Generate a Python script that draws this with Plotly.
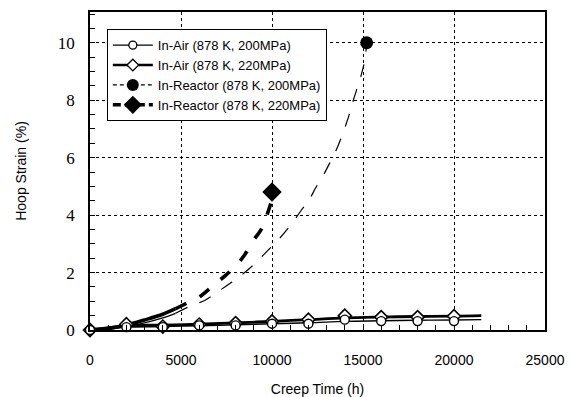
import plotly.graph_objects as go

# ---------------- data ----------------
air_marker_time = [0, 2000, 4000, 6000, 8000, 10000, 12000, 14000, 16000, 18000, 20000]
air200_marker = [0, 0.10, 0.10, 0.16, 0.16, 0.22, 0.22, 0.36, 0.31, 0.31, 0.31]
air220_marker = [0, 0.20, 0.12, 0.19, 0.24, 0.30, 0.36, 0.50, 0.45, 0.45, 0.48]

air_line_time = [0, 1000, 2000, 4000, 6000, 8000, 10000, 12000, 14000, 16000, 18000, 20000, 21500]
air200_line = [0, 0.05, 0.10, 0.12, 0.15, 0.18, 0.22, 0.25, 0.30, 0.32, 0.34, 0.35, 0.36]
air220_line = [0, 0.08, 0.15, 0.17, 0.20, 0.25, 0.30, 0.36, 0.42, 0.45, 0.47, 0.48, 0.50]

r200_time = [0, 1000, 2000, 3000, 4000, 4700, 5500, 6300, 6900, 7800, 8500, 9200, 9800,
             10400, 10900, 11600, 12100, 12400, 12900, 13200, 13600, 14200, 14400, 14700,
             14900, 15100, 15200]
r200_val = [0, 0.03, 0.12, 0.25, 0.42, 0.58, 0.83, 1.03, 1.28, 1.67, 2.00, 2.40, 2.79,
            3.18, 3.56, 4.16, 4.60, 4.95, 5.48, 5.85, 6.37, 7.41, 7.86, 8.46,
            8.87, 9.40, 10.0]
r200_end_time = [15200]
r200_end_val = [10.0]

r220_time = [0, 1000, 2000, 3000, 4000, 4700, 5300, 6000, 6900, 7450, 8100, 8500, 8900,
             9450, 9750, 10000]
r220_val = [0, 0.05, 0.17, 0.35, 0.55, 0.74, 0.93, 1.15, 1.62, 1.90, 2.30, 2.62, 3.05,
            3.55, 4.05, 4.55]
r220_end_time = [10000]
r220_end_val = [4.80]

solid_until = 4700  # reactor curves drawn solid up to here, dashed afterwards

x_ticks = [0, 5000, 10000, 15000, 20000, 25000]
y_ticks = [0, 2, 4, 6, 8, 10]

labels = ["In-Air (878 K, 200MPa)", "In-Air (878 K, 220MPa)",
          "In-Reactor (878 K, 200MPa)", "In-Reactor (878 K, 220MPa)"]

SANS = "Liberation Sans, Arial, DejaVu Sans, sans-serif"
SERIF = "Liberation Serif, Times New Roman, DejaVu Serif, serif"

# ---------------- figure ----------------
fig = go.Figure()


def split(t, v, limit):
    a = [(x, y) for x, y in zip(t, v) if x <= limit]
    b = [(x, y) for x, y in zip(t, v) if x >= limit]
    return [p[0] for p in a], [p[1] for p in a], [p[0] for p in b], [p[1] for p in b]


# In-Air lines
fig.add_trace(go.Scatter(x=air_line_time, y=air200_line, mode="lines",
                         line=dict(color="black", width=1.4, shape="spline"),
                         showlegend=False, hoverinfo="skip"))
fig.add_trace(go.Scatter(x=air_line_time, y=air220_line, mode="lines",
                         line=dict(color="black", width=2.8, shape="spline"),
                         showlegend=False, hoverinfo="skip"))

# Reactor curves
for t, v, w, dash in [(r200_time, r200_val, 1.2, "13px,13px"),
                      (r220_time, r220_val, 3.6, "12px,15px")]:
    sx, sy, dx, dy = split(t, v, solid_until)
    fig.add_trace(go.Scatter(x=sx, y=sy, mode="lines",
                             line=dict(color="black", width=w, shape="spline"),
                             showlegend=False, hoverinfo="skip"))
    fig.add_trace(go.Scatter(x=dx, y=dy, mode="lines",
                             line=dict(color="black", width=w, dash=dash, shape="spline"),
                             showlegend=False, hoverinfo="skip"))

# markers
fig.add_trace(go.Scatter(x=air_marker_time, y=air220_marker, mode="markers", cliponaxis=False,
                         marker=dict(symbol="diamond", size=10, color="white",
                                     line=dict(color="black", width=1.6)),
                         showlegend=False))
fig.add_trace(go.Scatter(x=air_marker_time, y=air200_marker, mode="markers", cliponaxis=False,
                         marker=dict(symbol="circle", size=9, color="white",
                                     line=dict(color="black", width=1.4)),
                         showlegend=False))
fig.add_trace(go.Scatter(x=r200_end_time, y=r200_end_val, mode="markers",
                         marker=dict(symbol="circle", size=13, color="black"),
                         showlegend=False))
fig.add_trace(go.Scatter(x=r220_end_time, y=r220_end_val, mode="markers",
                         marker=dict(symbol="diamond", size=15, color="black"),
                         showlegend=False))

# legend entries
leg_styles = [
    dict(line=dict(color="black", width=1.3),
         marker=dict(symbol="circle", size=8, color="white", line=dict(color="black", width=1.3))),
    dict(line=dict(color="black", width=2.6),
         marker=dict(symbol="diamond", size=9, color="white", line=dict(color="black", width=1.3))),
    dict(line=dict(color="black", width=1.2, dash="4px,3px"),
         marker=dict(symbol="circle", size=12, color="black")),
    dict(line=dict(color="black", width=3.6, dash="8px,4px"),
         marker=dict(symbol="diamond", size=14, color="black")),
]
for name, st in zip(labels, leg_styles):
    fig.add_trace(go.Scatter(x=[None], y=[None], mode="lines+markers", name=name, **st))

axis_common = dict(showline=True, linecolor="black", linewidth=1.5, mirror=True,
                   ticks="inside", tickcolor="black", ticklen=5, tickwidth=1,
                   showgrid=True, gridcolor="black", gridwidth=1, griddash="dot",
                   zeroline=False, automargin=False)

fig.update_xaxes(range=[0, 25000], tickvals=x_ticks, ticktext=[str(v) for v in x_ticks],
                 minor=dict(dtick=1000, ticks="inside", ticklen=5, tickcolor="black", showgrid=False),
                 tickfont=dict(family=SANS, size=14, color="black"),
                 ticklabelstandoff=16,
                 title=dict(text="Creep Time (h)", standoff=18,
                            font=dict(family=SANS, size=14, color="black")),
                 **axis_common)
fig.update_yaxes(range=[0, 11.07], tickvals=y_ticks, ticktext=[str(v) for v in y_ticks],
                 minor=dict(dtick=0.5, ticks="inside", ticklen=5, tickcolor="black", showgrid=False),
                 tickfont=dict(family=SERIF, size=17, color="black"),
                 ticklabelstandoff=10,
                 title=dict(text="Hoop Strain (%)", standoff=28,
                            font=dict(family=SANS, size=14, color="black")),
                 **axis_common)

fig.update_layout(
    width=570, height=397,
    margin=dict(l=90, r=25, t=12, b=67),
    paper_bgcolor="white", plot_bgcolor="white",
    legend=dict(x=0.037, y=0.946, xanchor="left", yanchor="top",
                bgcolor="white", bordercolor="black", borderwidth=1,
                font=dict(family=SANS, size=13, color="black"),
                tracegroupgap=0, itemwidth=40),
    showlegend=True,
)

fig.write_html("out.html")
